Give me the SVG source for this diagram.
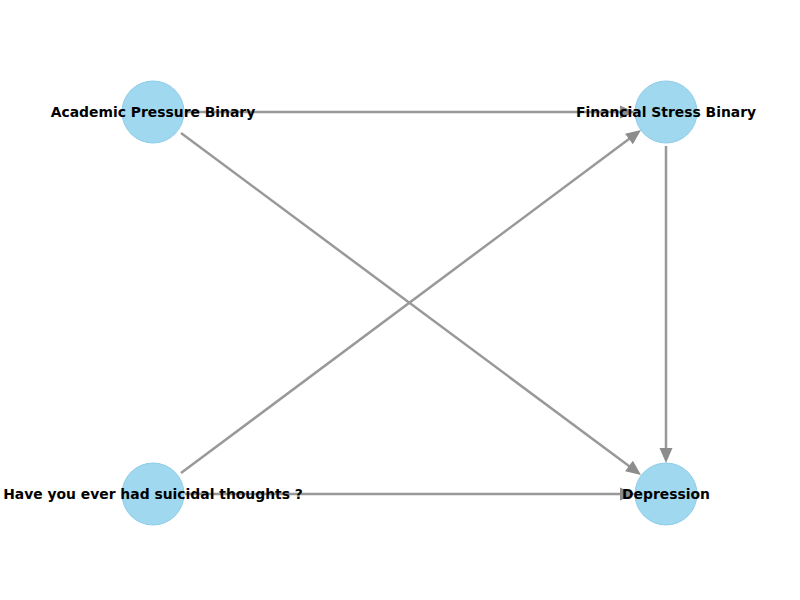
<svg xmlns="http://www.w3.org/2000/svg" width="800" height="600" viewBox="0 0 800 600">
<style>
.edge{stroke:#999999;stroke-width:2.5;fill:none;marker-end:url(#ah)}
.node{fill:#9fd8ef;stroke:#8ecde9;stroke-width:1}
.lbl{font-family:"DejaVu Sans",sans-serif;font-weight:bold;font-size:13.9px;fill:#000;text-anchor:middle}
</style>
<defs>
<marker id="ah" markerUnits="userSpaceOnUse" markerWidth="16" markerHeight="14" refX="5" refY="6.5" orient="auto" overflow="visible">
<path d="M0,0 L15,6.5 L0,13 z" fill="#8c8c8c"/>
</marker>
</defs>
<rect width="800" height="600" fill="#ffffff"/>
<g id="edges">
<line class="edge" x1="185" y1="112" x2="625" y2="112"/>
<line class="edge" x1="181" y1="133" x2="633" y2="469"/>
<line class="edge" x1="181" y1="473" x2="633" y2="136"/>
<line class="edge" x1="185" y1="494" x2="625" y2="494"/>
<line class="edge" x1="666" y1="146" x2="666" y2="453"/>
</g>
<g id="node-academic">
<circle class="node" cx="153" cy="112" r="31"/>
<text class="lbl" x="153" y="117">Academic Pressure Binary</text>
</g>
<g id="node-financial">
<circle class="node" cx="666" cy="112" r="31"/>
<text class="lbl" x="666" y="117">Financial Stress Binary</text>
</g>
<g id="node-suicidal">
<circle class="node" cx="153" cy="494" r="31"/>
<text class="lbl" x="153" y="499">Have you ever had suicidal thoughts ?</text>
</g>
<g id="node-depression">
<circle class="node" cx="666" cy="494" r="31"/>
<text class="lbl" x="666" y="499">Depression</text>
</g>
</svg>
